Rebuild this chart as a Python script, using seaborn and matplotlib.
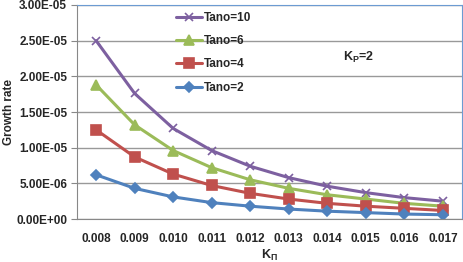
import numpy as np
import pandas as pd
import matplotlib
matplotlib.use("Agg")
import matplotlib.pyplot as plt
from matplotlib.ticker import FormatStrFormatter
import seaborn as sns

k_pi = ["0.008", "0.009", "0.010", "0.011", "0.012", "0.013", "0.014", "0.015", "0.016", "0.017"]
tano10 = [2.50e-5, 1.76e-5, 1.27e-5, 0.96e-5, 0.74e-5, 0.58e-5, 0.46e-5, 0.37e-5, 0.30e-5, 0.25e-5]
tano6 = [1.88e-5, 1.32e-5, 0.96e-5, 0.72e-5, 0.55e-5, 0.43e-5, 0.34e-5, 0.28e-5, 0.22e-5, 0.18e-5]
tano4 = [1.25e-5, 0.87e-5, 0.63e-5, 0.47e-5, 0.36e-5, 0.28e-5, 0.22e-5, 0.18e-5, 0.15e-5, 0.12e-5]
tano2 = [0.62e-5, 0.43e-5, 0.31e-5, 0.23e-5, 0.18e-5, 0.14e-5, 0.11e-5, 0.09e-5, 0.07e-5, 0.06e-5]

series = {"Tano=10": tano10, "Tano=6": tano6, "Tano=4": tano4, "Tano=2": tano2}
rows = []
for name, vals in series.items():
    for i, v in enumerate(vals):
        rows.append({"pos": i, "rate": v, "series": name})
df = pd.DataFrame(rows)

sns.set_style("white")
plt.rcParams['font.family'] = ['Liberation Sans', 'DejaVu Sans']
plt.rcParams['mathtext.fontset'] = 'custom'
plt.rcParams['mathtext.rm'] = 'Liberation Sans'
plt.rcParams['mathtext.bf'] = 'Liberation Sans:bold'

palette = {"Tano=10": "#7D60A0", "Tano=6": "#9BBB59", "Tano=4": "#C0504D", "Tano=2": "#4F81BD"}
markers = {"Tano=10": "x", "Tano=6": "^", "Tano=4": "s", "Tano=2": "D"}
msize = {"Tano=10": 6, "Tano=6": 7, "Tano=4": 7, "Tano=2": 5}

fig = plt.figure(figsize=(4.63, 2.62), dpi=100)
ax = fig.add_axes([0.166, 0.164, 0.832, 0.817])

for name in series:
    sub = df[df["series"] == name]
    sns.lineplot(data=sub, x="pos", y="rate", ax=ax, color=palette[name], marker=markers[name],
                 markersize=msize[name], markeredgecolor=palette[name], markeredgewidth=1.2,
                 linewidth=2.2, label=name)

ax.set_xlim(-0.5, 9.5)
ax.set_ylim(0, 3.0e-5)
ax.set_yticks(np.arange(0, 3.01e-5, 0.5e-5))
ax.yaxis.set_major_formatter(FormatStrFormatter('%.2E'))
ax.set_xticks(range(len(k_pi)))
ax.set_xticklabels(k_pi)
ax.set_xticks(np.arange(-0.5, 10, 1), minor=True)
ax.tick_params(axis='x', which='major', length=0, pad=10, labelsize=8.5)
ax.tick_params(axis='x', which='minor', length=4, color='#888888', direction='out')
ax.tick_params(axis='y', length=4, color='#888888', labelsize=8.5, direction='out', left=True, pad=3)
for lab in ax.get_xticklabels() + ax.get_yticklabels():
    lab.set_fontweight('bold')

ax.grid(axis='y', color='#999999', linewidth=1)
ax.set_axisbelow(True)
ax.spines['left'].set_color('#888888')
ax.spines['bottom'].set_color('#888888')
ax.spines['top'].set_color('#6C9BD2')
ax.spines['right'].set_color('#6C9BD2')

ax.set_ylabel("Growth rate", fontsize=8.5, fontweight='bold', labelpad=1)
ax.set_xlabel(r"K$_{\mathbf{\Pi}}$", fontsize=9, fontweight='bold', labelpad=2)

ax.text(0.69, 0.74, r"K$_{\mathbf{P}}$=2", transform=ax.transAxes, fontsize=9, fontweight='bold')

leg = ax.legend(loc='upper left', bbox_to_anchor=(0.24, 1.0), frameon=False, fontsize=8.5,
                handlelength=2.2, labelspacing=0.95, handletextpad=0.1, borderaxespad=0.2)
for t in leg.get_texts():
    t.set_fontweight('bold')

fig.savefig("out.png", dpi=100)
